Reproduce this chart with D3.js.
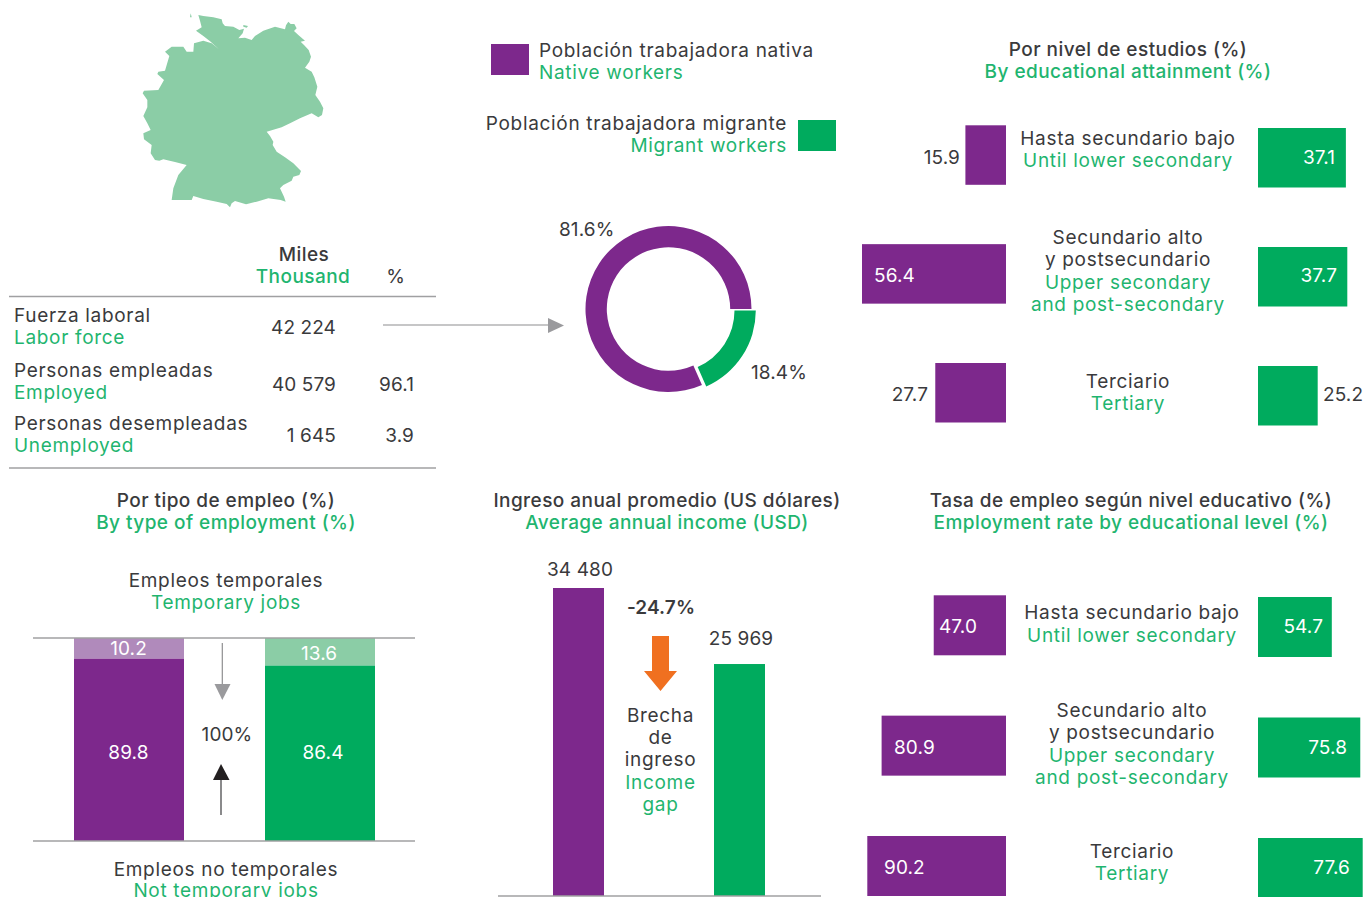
<!DOCTYPE html>
<html>
<head>
<meta charset="utf-8">
<script src="https://cdn.jsdelivr.net/npm/d3@7/dist/d3.min.js"></script>
<style>
html,body{margin:0;padding:0;background:#fff;overflow:hidden}
svg{display:block}
text{font-family:Inter,"Open Sans",sans-serif;font-size:19px;letter-spacing:.68px;fill:#3a3a3c}
text.g{fill:#1fb56f}
text.w{fill:#fff}
text.t{font-weight:500;letter-spacing:.45px}
text.n{letter-spacing:.1px}
</style>
</head>
<body>
<svg id="c" width="1365" height="897"></svg>
<script>
// ---------- data ----------
const eduCats = ["low","mid","high"];
const attainNative = [15.9,56.4,27.7];
const attainMigrant = [37.1,37.7,25.2];
const rateNative = [47.0,80.9,90.2];
const rateMigrant = [54.7,75.8,77.6];
const shareValues = [18.4,81.6];   // migrant, native
const tempNative = [89.8,10.2];
const tempMigrant = [86.4,13.6];
const incomeGroups = ["native","migrant"];
const incomeValues = [34480,25969];
const incomeGap = "-24.7%";
const tableRows = [["Fuerza laboral","Labor force","42 224",""],["Personas empleadas","Employed","40 579","96.1"],["Personas desempleadas","Unemployed","1 645","3.9"]];
const labelsLowEs = ["Hasta secundario bajo"], labelsLowEn = ["Until lower secondary"];
const labelsMidEs = ["Secundario alto","y postsecundario"], labelsMidEn = ["Upper secondary","and post-secondary"];
const labelsHighEs = ["Terciario"], labelsHighEn = ["Tertiary"];
// outline of Germany, in a 660-unit square
const mapOutline = [[235,45],[250,48],[280,52],[305,58],[308,70],[315,78],[340,80],[358,90],[372,86],[368,100],[355,115],[375,113],[395,120],[405,108],[430,92],[465,80],[495,88],[498,76],[505,65],[512,72],[523,72],[530,85],[522,93],[535,105],[555,122],[542,125],[552,135],[566,150],[573,170],[568,185],[555,203],[575,215],[583,232],[592,260],[586,285],[600,305],[610,325],[606,345],[595,352],[575,340],[540,355],[510,370],[485,382],[440,395],[450,408],[460,425],[458,435],[470,455],[495,472],[520,490],[543,513],[538,525],[520,530],[515,542],[490,555],[480,565],[492,590],[497,605],[482,600],[445,595],[410,605],[378,613],[345,603],[335,610],[330,622],[320,612],[290,605],[250,597],[220,588],[215,600],[155,600],[160,565],[175,525],[200,495],[165,486],[130,478],[118,482],[105,480],[92,460],[95,435],[72,418],[70,400],[92,390],[82,370],[70,348],[82,322],[82,300],[68,280],[72,272],[115,270],[132,240],[112,222],[115,215],[135,212],[148,168],[135,155],[155,140],[190,140],[200,155],[220,155],[222,130],[250,122],[275,130],[297,148],[272,125],[250,108],[228,92],[245,82],[240,62]];
const mapIslandA = [[370,75],[384,78],[380,83],[370,80]];
const mapIslandB = [[212,40],[215,52],[210,52]];

// ---------- palette ----------
const PURPLE="#7d288c", GREEN="#00ab5e", LPURPLE="#b08abb", LGREEN="#8bcda6", GREY="#a0a0a2", ORANGE="#f07020", DARK="#231f20";

const svg=d3.select("#c");
function txt(s,x,y,anchor,cls){
  return svg.append("text").attr("x",x).attr("y",y).attr("text-anchor",anchor||"middle").attr("class",cls||"").text(s);
}
function rule(x1,y1,x2,y2,c,w){
  svg.append("line").attr("x1",x1).attr("y1",y1).attr("x2",x2).attr("y2",y2).attr("stroke",c||GREY).attr("stroke-width",w||1.5);
}
function tri(points,c){
  svg.append("path").attr("d",d3.line()(points)+"Z").attr("fill",c);
}

// ---------- map ----------
const mx=d3.scaleLinear().domain([0,660]).range([120,340]);
const my=d3.scaleLinear().domain([0,660]).range([0,220]);
const mapLine=d3.line().x(d=>mx(d[0])).y(d=>my(d[1])).curve(d3.curveLinearClosed);
svg.append("g").selectAll("path").data([mapOutline,mapIslandA,mapIslandB]).join("path").attr("d",mapLine).attr("fill",LGREEN);

// ---------- legend ----------
svg.append("rect").attr("x",491).attr("y",44).attr("width",38).attr("height",31).attr("fill",PURPLE);
svg.append("rect").attr("x",798).attr("y",120).attr("width",38).attr("height",31).attr("fill",GREEN);
txt("Población trabajadora nativa",539,57,"start");
txt("Native workers",539,79,"start","g");
txt("Población trabajadora migrante",787,130,"end");
txt("Migrant workers",787,152,"end","g");

// ---------- table ----------
txt("Miles",304,261,"middle","t");
txt("Thousand",303,283,"middle","g t");
txt("%",396,283);
rule(9,296.5,436,296.5);
rule(9,468,436,468);
const rowY=[[322,344,334],[377,399,391],[430,452,442]];
tableRows.forEach((r,i)=>{
  txt(r[0],14,rowY[i][0],"start");
  txt(r[1],14,rowY[i][1],"start","g");
  txt(r[2],336,rowY[i][2],"end","n");
  if(r[3]) txt(r[3],414,rowY[i][2],"end","n");
});
rule(383,325,550,325,"#8e8e90",1.2);
tri([[548,318],[564,325.5],[548,333]],"#9a9a9d");

// ---------- donut ----------
const pie=d3.pie().sort(null).startAngle(Math.PI/2).endAngle(Math.PI*2.5)(shareValues);
const arc=d3.arc().innerRadius(61.7).outerRadius(83);
const donutFill=[GREEN,PURPLE], donutShift=[[4.3,1.5],[0,0]];
svg.append("g").attr("transform","translate(668.5,309)").selectAll("path").data(pie).join("path")
  .attr("d",arc).attr("fill",(d,i)=>donutFill[i]).attr("transform",(d,i)=>`translate(${donutShift[i]})`);
txt("81.6%",559,236,"start","n");
txt("18.4%",751,379,"start","n");

// ---------- diverging bar panels ----------
function panel(cfg){
  const yN=d3.scalePoint().domain(eduCats).range(cfg.yNative);
  const yM=d3.scalePoint().domain(eduCats).range(cfg.yMigrant);
  const xN=d3.scaleLinear().domain([0,d3.max(cfg.native)]).range([1006,cfg.nativeMinX]);
  const xM=d3.scaleLinear().domain([0,d3.max(cfg.migrant)]).range([1258,cfg.migrantMaxX]);
  svg.append("g").selectAll("rect").data(cfg.native).join("rect")
    .attr("x",d=>xN(d)).attr("width",d=>1006-xN(d))
    .attr("y",(d,i)=>yN(eduCats[i])).attr("height",cfg.h).attr("fill",PURPLE);
  svg.append("g").selectAll("rect").data(cfg.migrant).join("rect")
    .attr("x",1258).attr("width",d=>xM(d)-1258)
    .attr("y",(d,i)=>yM(eduCats[i])).attr("height",cfg.h).attr("fill",GREEN);
  cfg.native.forEach((v,i)=>{
    const p=cfg.nativeLabel[i];
    txt(v.toFixed(1),p[0],p[1],p[2],"n "+p[3]);
  });
  cfg.migrant.forEach((v,i)=>{
    const p=cfg.migrantLabel[i];
    txt(v.toFixed(1),p[0],p[1],p[2],"n "+p[3]);
  });
  const c=cfg.cx, L=cfg.lines;
  txt(labelsLowEs[0],c,L[0]); txt(labelsLowEn[0],c,L[1],"middle","g");
  txt(labelsMidEs[0],c,L[2]); txt(labelsMidEs[1],c,L[3]);
  txt(labelsMidEn[0],c,L[4],"middle","g"); txt(labelsMidEn[1],c,L[5],"middle","g");
  txt(labelsHighEs[0],c,L[6]); txt(labelsHighEn[0],c,L[7],"middle","g");
}
txt("Por nivel de estudios (%)",1128,56,"middle","t");
txt("By educational attainment (%)",1128,78,"middle","g t");
panel({native:attainNative,migrant:attainMigrant,yNative:[125.3,363],yMigrant:[128,366],h:59.5,
  nativeMinX:862,migrantMaxX:1347.3,cx:1128,lines:[145,167,244,266,289,311,388,410],
  nativeLabel:[[960,164,"end",""],[874,282,"start","w"],[928,401,"end",""]],
  migrantLabel:[[1335,164,"end","w"],[1337,282,"end","w"],[1323,401,"start",""]]});

txt("Tasa de empleo según nivel educativo (%)",1131,507,"middle","t");
txt("Employment rate by educational level (%)",1131,529,"middle","g t");
panel({native:rateNative,migrant:rateMigrant,yNative:[595.3,836],yMigrant:[597,838],h:60,
  nativeMinX:867.3,migrantMaxX:1362.7,cx:1132,lines:[619,642,717,739,762,784,858,880],
  nativeLabel:[[939,633,"start","w"],[894,754,"start","w"],[884,874,"start","w"]],
  migrantLabel:[[1323,633,"end","w"],[1347,754,"end","w"],[1350,874,"end","w"]]});

// ---------- stacked bars ----------
txt("Por tipo de empleo (%)",226,507,"middle","t");
txt("By type of employment (%)",226,529,"middle","g t");
txt("Empleos temporales",226,587);
txt("Temporary jobs",226,609,"middle","g");
const yS=d3.scaleLinear().domain([0,100]).range([841,638]);
const stackX=d3.scaleBand().domain(incomeGroups).range([74,375]).paddingInner(81/191).paddingOuter(0);
const stackSeries=[[tempNative,PURPLE,LPURPLE],[tempMigrant,GREEN,LGREEN]];
stackSeries.forEach((s,i)=>{
  const x=stackX(incomeGroups[i]), w=stackX.bandwidth();
  svg.append("rect").attr("x",x).attr("width",w).attr("y",yS(100)).attr("height",yS(s[0][0])-yS(100)).attr("fill",s[2]);
  svg.append("rect").attr("x",x).attr("width",w).attr("y",yS(s[0][0])).attr("height",yS(0)-yS(s[0][0])).attr("fill",s[1]);
});
rule(33,638,415,638);
rule(33,841,415,841);
txt(tempNative[1].toFixed(1),128.5,655,"middle","n w");
txt(tempMigrant[1].toFixed(1),319,660,"middle","n w");
txt(tempNative[0].toFixed(1),128.5,759,"middle","n w");
txt(tempMigrant[0].toFixed(1),323,759,"middle","n w");
txt("100%",227,741,"middle","n");
rule(222.3,643,222.3,685,"#8e8e90",1.2);
tri([[214.5,684],[230.5,684],[222.3,700]],"#9a9a9d");
rule(221,815,221,778,"#3c3c3e",1.2);
tri([[213,780],[229.5,780],[221,764]],DARK);
txt("Empleos no temporales",226,876);
txt("Not temporary jobs",226,897,"middle","g");

// ---------- income ----------
txt("Ingreso anual promedio (US dólares)",667,507,"middle","t");
txt("Average annual income (USD)",667,529,"middle","g t");
const yI=d3.scaleLinear().domain([0,d3.max(incomeValues)]).range([896,588]);
const xI=d3.scaleBand().domain(incomeGroups).range([553,765]).paddingInner(110/161).paddingOuter(0);
const incomeFill=[PURPLE,GREEN];
svg.append("g").selectAll("rect").data(incomeValues).join("rect")
  .attr("x",(d,i)=>xI(incomeGroups[i])).attr("width",xI.bandwidth())
  .attr("y",d=>yI(d)).attr("height",d=>896-yI(d)).attr("fill",(d,i)=>incomeFill[i]);
rule(498,896,821,896);
const spaced=v=>d3.format(",")(v).replace(/,/g," ");
txt(spaced(incomeValues[0]),580,576,"middle","n");
txt(spaced(incomeValues[1]),741,645,"middle","n");
txt(incomeGap,661,614,"middle","n").style("font-weight",600);
tri([[652,636],[669,636],[669,671],[677,671],[660.5,691],[644,671],[652,671]],ORANGE);
txt("Brecha",660.5,722);
txt("de",660.5,744);
txt("ingreso",660.5,766);
txt("Income",660.5,789,"middle","g");
txt("gap",660.5,811,"middle","g");
</script>
</body>
</html>
